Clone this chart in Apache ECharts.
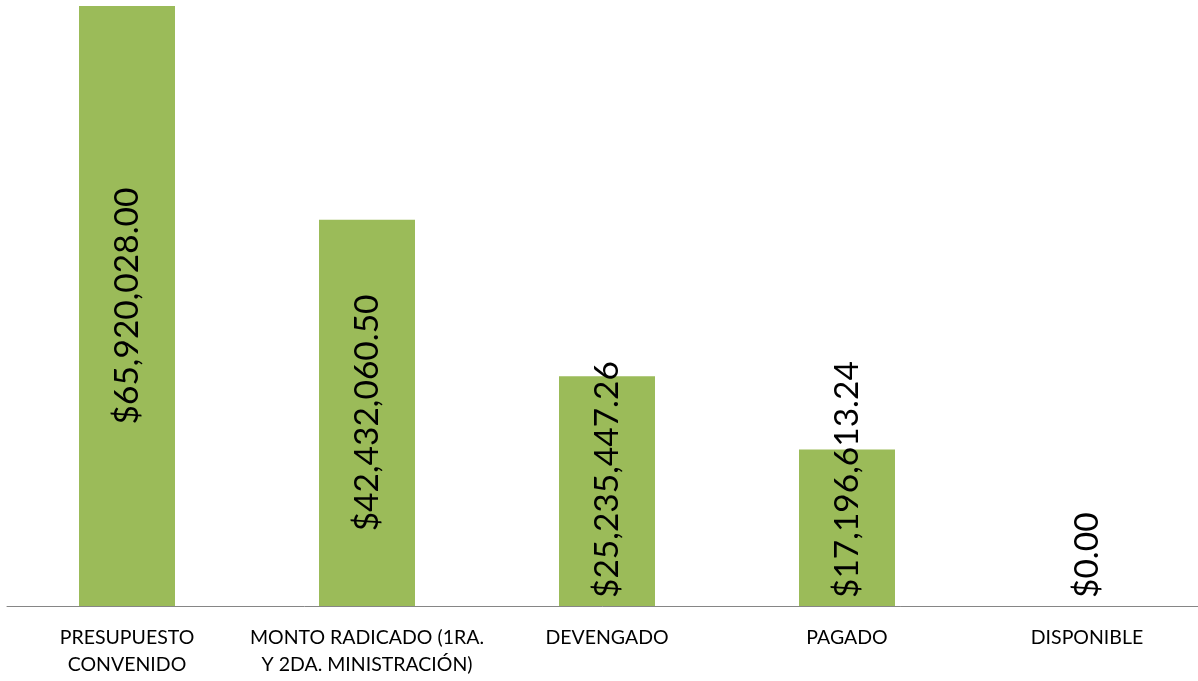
<!DOCTYPE html>
<html>
<head>
<meta charset="utf-8">
<script src="https://cdn.jsdelivr.net/npm/echarts@6/dist/echarts.min.js"></script>
<style>
html,body{margin:0;padding:0;background:#fff;}
#chart{width:1198px;height:681px;}
</style>
</head>
<body>
<div id="chart"></div>
<script>
const categories = [
  "PRESUPUESTO\nCONVENIDO",
  "MONTO RADICADO (1RA.\nY 2DA. MINISTRACIÓN)",
  "DEVENGADO",
  "PAGADO",
  "DISPONIBLE"
];
const values = [65920028.00, 42432060.50, 25235447.26, 17196613.24, 0.00];
const labelPlacement = ["inside", "inside", "insideBottom", "insideBottom", "insideBottom"];

function fmt(v) {
  return "$" + v.toLocaleString("en-US", {minimumFractionDigits: 2, maximumFractionDigits: 2});
}

const data = values.map((v, i) => {
  const pos = labelPlacement[i];
  return {
    value: v,
    label: pos === "inside"
      ? {position: "inside", align: "center", verticalAlign: "middle"}
      : {position: "insideBottom", align: "left", verticalAlign: "middle", distance: 8}
  };
});

const chart = echarts.init(document.getElementById("chart"));
chart.setOption({
  animation: false,
  backgroundColor: "#ffffff",
  grid: {left: 7, right: -9, top: 6, bottom: 75, containLabel: false, outerBoundsMode: "none"},
  xAxis: {
    type: "category",
    data: categories,
    axisLine: {lineStyle: {color: "#868686", width: 1}},
    axisTick: {show: false},
    axisLabel: {
      interval: 0,
      color: "#000000",
      fontFamily: "Lato",
      fontSize: 19.5,
      lineHeight: 27,
      margin: 18
    }
  },
  yAxis: {
    type: "value",
    min: 0,
    max: 65920028,
    show: false,
    splitLine: {show: false}
  },
  series: [{
    type: "bar",
    data: data,
    barWidth: 96,
    itemStyle: {color: "#9BBB59"},
    label: {
      show: true,
      rotate: 90,
      color: "#000000",
      fontFamily: "Lato",
      fontSize: 33.5,
      formatter: p => fmt(p.value)
    }
  }]
});
</script>
</body>
</html>
